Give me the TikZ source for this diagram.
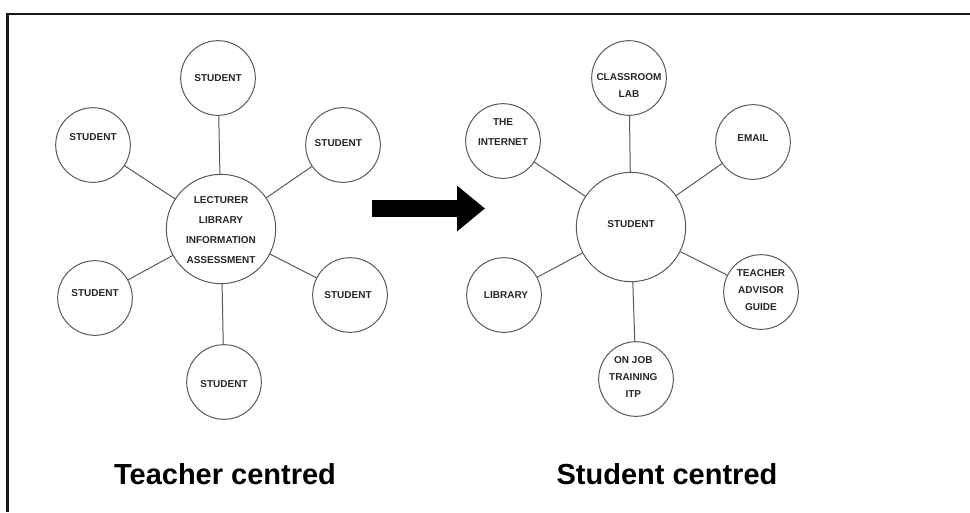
\documentclass[tikz,border=0pt]{standalone}
\usepackage{fontspec}
\setmainfont{Liberation Sans}
\usetikzlibrary{arrows.meta}
\begin{document}
\begin{tikzpicture}[x=0.75pt,y=-0.75pt,
  sat/.style={circle,draw=black!65,line width=0.75pt,minimum size=56pt,inner sep=0pt},
  hub/.style={sat,minimum size=82pt},
  lbl/.style={align=center,text=black!85,inner sep=0pt,
    font=\bfseries\fontsize{7.5}{15}\selectfont},
  tight/.style={font=\bfseries\fontsize{7.5}{12.75}\selectfont},
  link/.style={draw=black!65,line width=0.75pt},
  bigarrow/.style={draw=black,line width=12.75pt,-{Triangle[length=21pt,width=33pt]}},
  caption/.style={anchor=base,font=\bfseries\fontsize{21.75}{26}\selectfont}
]
\useasboundingbox (0,0) rectangle (970,512);
% open frame: left and top edges
\draw[line width=1.6pt,black!90] (7.5,512) -- (7.5,14) -- (970,14);

% teacher centred
\node[hub,label={[lbl,yshift=-1pt]center:LECTURER\\LIBRARY\\INFORMATION\\ASSESSMENT}] (tc) at (221,229) {};
\node[sat,label={[lbl]center:STUDENT}] (t1) at (218,78) {};
\node[sat,label={[lbl,yshift=6pt]center:STUDENT}] (t2) at (93,145) {};
\node[sat,label={[lbl,xshift=-3.5pt,yshift=1.5pt]center:STUDENT}] (t3) at (343,145) {};
\node[sat,label={[lbl,yshift=3.5pt]center:STUDENT}] (t4) at (95,298) {};
\node[sat,label={[lbl,xshift=-1.5pt]center:STUDENT}] (t5) at (350,295) {};
\node[sat,label={[lbl,yshift=-1.5pt]center:STUDENT}] (t6) at (224,382) {};
\foreach \s in {t1,t2,t3,t4,t5,t6} \draw[link] (tc) -- (\s);

% shift arrow
\coordinate (a0) at (372,208.5);
\coordinate (a1) at (485,208.5);
\draw[bigarrow] (a0) -- (a1);

% student centred
\node[hub,label={[lbl,yshift=2pt]center:STUDENT}] (sc) at (631,227) {};
\node[sat,label={[lbl,tight,yshift=-5.5pt]center:CLASSROOM\\LAB}] (s1) at (629,78) {};
\node[sat,label={[lbl,yshift=6.5pt]center:THE\\INTERNET}] (s2) at (503,141) {};
\node[sat,label={[lbl,yshift=3pt]center:EMAIL}] (s3) at (753,142) {};
\node[sat,label={[lbl,xshift=1.5pt]center:LIBRARY}] (s4) at (504,295) {};
\node[sat,label={[lbl,tight,yshift=1.5pt]center:TEACHER\\ADVISOR\\GUIDE}] (s5) at (761,292) {};
\node[sat,label={[lbl,tight,xshift=-2pt,yshift=1.5pt]center:ON JOB\\TRAINING\\ITP}] (s6) at (636,379) {};
\foreach \s in {s1,s2,s3,s4,s5,s6} \draw[link] (sc) -- (\s);

% captions
\node[caption] (capL) at (225,484) {Teacher centred};
\node[caption] (capR) at (667,484) {Student centred};
\end{tikzpicture}
\end{document}
